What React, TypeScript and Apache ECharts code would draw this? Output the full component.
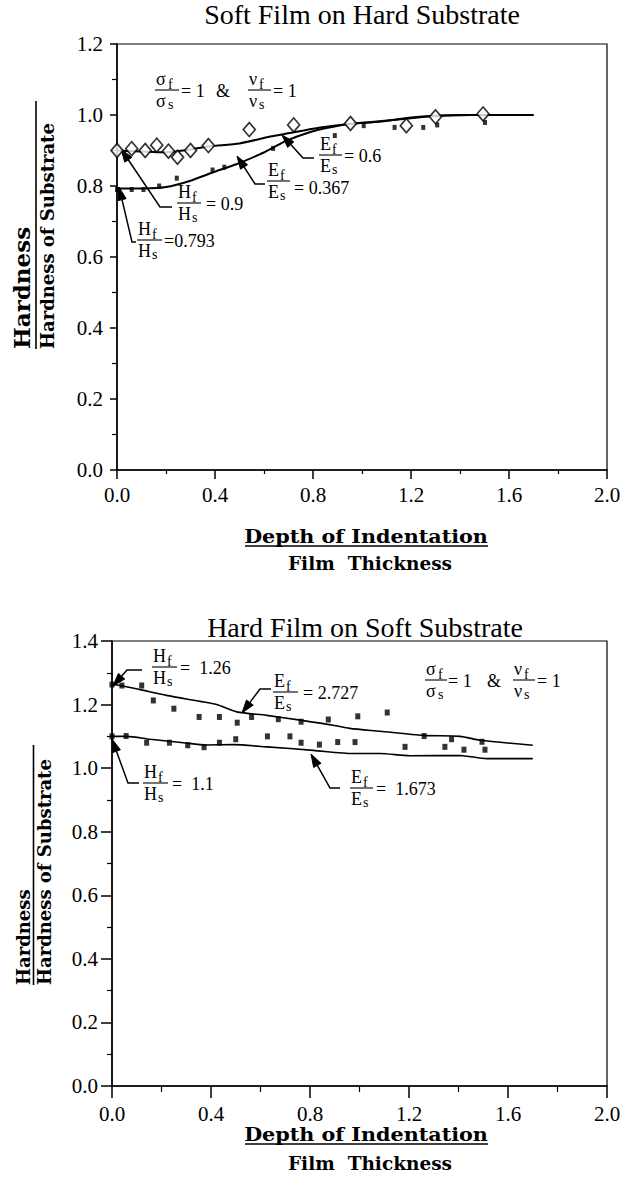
import React, { useEffect, useRef } from "react";
import * as echarts from "echarts";

// ---- Soft film on hard substrate ----
const SOFT_X_TICKS = [0, 0.4, 0.8, 1.2, 1.6, 2.0];
const SOFT_Y_TICKS = [0, 0.2, 0.4, 0.6, 0.8, 1.0, 1.2];
// model curve, Ef/Es = 0.6, Hf/Hs = 0.9
const softCurveE06: number[][] = [
  [0, 0.9], [0.2, 0.895], [0.38, 0.912], [0.5, 0.92], [0.63, 0.94], [0.68, 0.946],
  [0.83, 0.965], [0.95, 0.975], [1.08, 0.982], [1.2, 0.993], [1.3, 0.998], [1.43, 1.0], [1.7, 1.0],
];
// model curve, Ef/Es = 0.367, Hf/Hs = 0.793
const softCurveE0367: number[][] = [
  [0, 0.793], [0.11, 0.793], [0.2, 0.797], [0.3, 0.815], [0.39, 0.838], [0.49, 0.862],
  [0.585, 0.89], [0.64, 0.909], [0.69, 0.927], [0.78, 0.95], [0.86, 0.964], [0.94, 0.974],
  [1.05, 0.981], [1.2, 0.991], [1.3, 0.997], [1.45, 1.0], [1.7, 1.0],
];
// measured points (open diamonds)
const softDiamonds: number[][] = [
  [0, 0.9], [0.06, 0.905], [0.115, 0.9], [0.162, 0.915], [0.21, 0.898], [0.247, 0.881],
  [0.3, 0.9], [0.373, 0.914], [0.54, 0.959], [0.721, 0.972], [0.953, 0.976], [1.181, 0.97],
  [1.3, 0.995], [1.494, 1.003],
];
// measured points (filled squares)
const softSquares: number[][] = [
  [0, 0.79], [0.06, 0.79], [0.108, 0.79], [0.172, 0.8], [0.244, 0.822], [0.39, 0.845],
  [0.438, 0.853], [0.637, 0.906], [0.889, 0.942], [1.007, 0.97], [1.133, 0.965], [1.25, 0.965],
  [1.307, 0.972], [1.502, 0.979],
];

// ---- Hard film on soft substrate ----
const HARD_Y_TICKS = [0, 0.2, 0.4, 0.6, 0.8, 1.0, 1.2, 1.4];
// model curve, Ef/Es = 2.727, Hf/Hs = 1.26
const hardCurveE2727: number[][] = [
  [0, 1.263], [0.032, 1.26], [0.113, 1.247], [0.22, 1.229], [0.356, 1.21], [0.423, 1.2],
  [0.504, 1.177], [0.625, 1.166], [0.76, 1.151], [0.894, 1.135], [0.96, 1.125], [1.083, 1.116],
  [1.258, 1.103], [1.406, 1.1], [1.487, 1.088], [1.7, 1.072],
];
// model curve, Ef/Es = 1.673, Hf/Hs = 1.1
const hardCurveE1673: number[][] = [
  [0, 1.1], [0.06, 1.1], [0.154, 1.091], [0.288, 1.08], [0.383, 1.073], [0.49, 1.074],
  [0.625, 1.067], [0.813, 1.056], [0.975, 1.046], [1.083, 1.046], [1.204, 1.039], [1.406, 1.04],
  [1.514, 1.03], [1.7, 1.03],
];
const hardSquaresUpper: number[][] = [
  [0, 1.263], [0.04, 1.26], [0.12, 1.26], [0.167, 1.213], [0.25, 1.187], [0.352, 1.161],
  [0.434, 1.161], [0.506, 1.143], [0.564, 1.161], [0.672, 1.154], [0.764, 1.146], [0.874, 1.153],
  [0.993, 1.163], [1.112, 1.175], [1.261, 1.101], [1.372, 1.091], [1.495, 1.083],
];
const hardSquaresLower: number[][] = [
  [0, 1.1], [0.057, 1.101], [0.14, 1.08], [0.232, 1.08], [0.306, 1.072], [0.372, 1.066],
  [0.434, 1.08], [0.5, 1.091], [0.628, 1.1], [0.719, 1.1], [0.764, 1.08], [0.838, 1.074],
  [0.912, 1.082], [0.982, 1.082], [1.184, 1.067], [1.345, 1.067], [1.422, 1.058], [1.507, 1.058],
];

const SERIF = "Liberation Serif";
const WIDE_SERIF = "DejaVu Serif";
const INK = "#000";

function txt(
  text: string, x: number, y: number, size: number,
  align = "left", weight = "normal", family = SERIF, scaleX = 1,
): any {
  return {
    type: "text",
    x,
    y,
    scaleX,
    silent: true,
    style: {
      text,
      font: `${weight} ${size}px ${family}`,
      fill: INK,
      align,
      textAlign: align,
      verticalAlign: "middle",
      textVerticalAlign: "middle",
    },
  };
}

function seg(x1: number, y1: number, x2: number, y2: number, w = 1.2): any {
  return { type: "line", silent: true, shape: { x1, y1, x2, y2 }, style: { stroke: INK, lineWidth: w } };
}

// leader with a filled arrowhead: end -> elbow -> tip
function arrow(tip: number[], elbow: number[], end: number[]): any[] {
  const dx = tip[0] - elbow[0];
  const dy = tip[1] - elbow[1];
  const len = Math.hypot(dx, dy);
  const ux = dx / len;
  const uy = dy / len;
  const L = 13;
  const hw = 4.2;
  const bx = tip[0] - ux * L;
  const by = tip[1] - uy * L;
  return [
    {
      type: "polyline",
      silent: true,
      shape: { points: [end, elbow, [bx, by]] },
      style: { stroke: INK, lineWidth: 1.5, fill: null },
    },
    {
      type: "polygon",
      silent: true,
      shape: { points: [tip, [bx - uy * hw, by + ux * hw], [bx + uy * hw, by - ux * hw]] },
      style: { fill: INK, stroke: INK, lineWidth: 1 },
    },
  ];
}

// stacked ratio such as  H_f / H_s = 0.9
function ratio(
  x0: number, w: number, yb: number,
  num: string, numSub: string, den: string, denSub: string,
  glyphW: number, rhs: string, rhsX: number, rhsDy = 1,
): any[] {
  return [
    seg(x0, yb, x0 + w, yb, 1.1),
    txt(num, x0 + 1, yb - 11, 18),
    txt(numSub, x0 + 2 + glyphW, yb - 6, 14),
    txt(den, x0 + 1, yb + 11, 18),
    txt(denSub, x0 + 2 + glyphW, yb + 14, 14),
    txt(rhs, rhsX, yb + rhsDy, 18),
  ];
}

function xAxisFor(gridIndex: number, major: number, minor: number, margin: number): any {
  return {
    type: "value",
    gridIndex,
    min: SOFT_X_TICKS[0],
    max: SOFT_X_TICKS[SOFT_X_TICKS.length - 1],
    interval: SOFT_X_TICKS[1] - SOFT_X_TICKS[0],
    axisLine: { show: true, onZero: false, lineStyle: { color: INK, width: 1.5 } },
    axisTick: { show: true, inside: false, length: major, lineStyle: { color: INK, width: 1.5 } },
    minorTick: { show: true, splitNumber: 2, length: minor, lineStyle: { color: INK, width: 1.2 } },
    splitLine: { show: false },
    axisLabel: {
      margin,
      color: INK,
      fontFamily: SERIF,
      fontSize: 21,
      formatter: (v: number) => v.toFixed(1),
    },
  };
}

function yAxisFor(gridIndex: number, ticks: number[], major: number, minor: number, margin: number): any {
  return {
    type: "value",
    gridIndex,
    min: ticks[0],
    max: ticks[ticks.length - 1],
    interval: ticks[1] - ticks[0],
    axisLine: { show: true, onZero: false, lineStyle: { color: INK, width: 1.5 } },
    axisTick: { show: true, inside: false, length: major, lineStyle: { color: INK, width: 1.5 } },
    minorTick: { show: true, splitNumber: 2, length: minor, lineStyle: { color: INK, width: 1.2 } },
    splitLine: { show: false },
    axisLabel: {
      margin,
      color: INK,
      fontFamily: SERIF,
      fontSize: 21,
      formatter: (v: number) => v.toFixed(1),
    },
  };
}

function curve(data: number[][], idx: number, width: number): any {
  return {
    type: "line",
    xAxisIndex: idx,
    yAxisIndex: idx,
    data,
    smooth: 0.25,
    showSymbol: false,
    symbol: "none",
    lineStyle: { color: INK, width },
    z: 2,
  };
}

function squares(data: number[][], idx: number, size: number[]): any {
  return {
    type: "scatter",
    xAxisIndex: idx,
    yAxisIndex: idx,
    data,
    symbol: "rect",
    symbolSize: size,
    itemStyle: { color: INK },
    z: 3,
  };
}

// vertical text reading bottom-to-top
function vText(text: string, x: number, y: number, size: number): any {
  return {
    type: "text",
    x,
    y,
    rotation: Math.PI / 2,
    silent: true,
    style: {
      text,
      font: `bold ${size}px ${WIDE_SERIF}`,
      fill: INK,
      align: "left",
      textAlign: "left",
      verticalAlign: "middle",
      textVerticalAlign: "middle",
    },
  };
}

function yTitle(cx: number, yStart: number, numSize: number, barX: number, barLen: number, denX: number): any[] {
  return [
    vText("Hardness", cx, yStart, numSize),
    seg(barX, yStart, barX, yStart - barLen, 1.6),
    vText("Hardness of Substrate", denX, yStart, 18),
  ];
}

function xTitle(cx: number, y1: number, y2: number, ulY: number, ulX0: number, ulX1: number): any[] {
  return [
    txt("Depth of Indentation", cx, y1, 18, "center", "bold", WIDE_SERIF, 1.15),
    seg(ulX0, ulY, ulX1, ulY, 1.5),
    txt("Film  Thickness", cx + 4, y2, 18.5, "center", "bold", WIDE_SERIF),
  ];
}

function buildGraphics(): any[] {
  const g: any[] = [];
  // titles
  g.push(txt("Soft Film on Hard Substrate", 362, 14, 28, "center"));
  g.push(txt("Hard Film on Soft Substrate", 365, 627, 28, "center"));

  // axis titles
  g.push(...yTitle(21, 349, 23, 36, 248, 47));
  g.push(...yTitle(23, 985, 18, 33.5, 240, 44));
  g.push(...xTitle(366, 537, 563, 546, 245, 488));
  g.push(...xTitle(366, 1135, 1163, 1144, 245, 488));

  // soft-film annotations
  g.push(...ratio(155, 24, 90, "σ", "f", "σ", "s", 11, "= 1", 181));
  g.push(txt("&", 223, 91, 18, "center"));
  g.push(...ratio(248, 23, 90, "ν", "f", "ν", "s", 9, "= 1", 273));

  g.push(...arrow([121, 149], [160, 207], [172, 207]));
  g.push(...ratio(177, 24, 203, "H", "f", "H", "s", 13, "= 0.9", 206));
  g.push(...arrow([119, 187], [132, 242], [136, 242]));
  g.push(...ratio(137, 25, 240, "H", "f", "H", "s", 13, "=0.793", 164));
  g.push(...arrow([237, 156], [255, 184], [265, 184]));
  g.push(...ratio(267, 23, 181, "E", "f", "E", "s", 11, "= 0.367", 294, 7));
  g.push(...arrow([282, 135], [303, 158], [314, 158]));
  g.push(...ratio(319, 23, 155, "E", "f", "E", "s", 11, "= 0.6", 344));

  // hard-film annotations
  g.push(...ratio(425, 22, 680, "σ", "f", "σ", "s", 11, "= 1", 448));
  g.push(txt("&", 494, 681, 18, "center"));
  g.push(...ratio(513, 22, 680, "ν", "f", "ν", "s", 9, "= 1", 537));

  g.push(...arrow([113, 686], [127, 670], [142, 670]));
  g.push(...ratio(152, 25, 667, "H", "f", "H", "s", 13, "=  1.26", 180));
  g.push(...arrow([112, 739], [128, 783], [139, 783]));
  g.push(...ratio(143, 25, 783, "H", "f", "H", "s", 13, "=  1.1", 172));
  g.push(...arrow([242, 713], [260, 689], [271, 689]));
  g.push(...ratio(273, 25, 692, "E", "f", "E", "s", 11, "= 2.727", 303));
  g.push(...arrow([311, 754], [330, 788], [340, 788]));
  g.push(...ratio(350, 23, 788, "E", "f", "E", "s", 11, "=  1.673", 376));
  return g;
}

export default function App() {
  const ref = useRef<HTMLDivElement>(null);

  useEffect(() => {
    if (!ref.current) return;
    const chart = echarts.init(ref.current, null, { renderer: "svg" });
    const option: any = {
      animation: false,
      backgroundColor: "#fff",
      grid: [
        { left: 117, top: 44, width: 490, height: 426, show: true, borderColor: INK, borderWidth: 1.2, containLabel: false },
        { left: 112, top: 641, width: 495, height: 445, show: true, borderColor: INK, borderWidth: 1.2, containLabel: false },
      ],
      xAxis: [xAxisFor(0, 9, 4, 14), xAxisFor(1, 12, 6, 17)],
      yAxis: [yAxisFor(0, SOFT_Y_TICKS, 7, 5, 14), yAxisFor(1, HARD_Y_TICKS, 11, 5, 14)],
      series: [
        curve(softCurveE06, 0, 2),
        curve(softCurveE0367, 0, 2),
        squares(softSquares, 0, [4, 5]),
        {
          type: "scatter",
          xAxisIndex: 0,
          yAxisIndex: 0,
          data: softDiamonds,
          symbol: "diamond",
          symbolSize: [12, 14],
          itemStyle: { color: "#fff", borderColor: INK, borderWidth: 1.7 },
          z: 4,
        },
        curve(hardCurveE2727, 1, 1.6),
        curve(hardCurveE1673, 1, 1.6),
        squares(hardSquaresUpper, 1, [5, 6]),
        squares(hardSquaresLower, 1, [5, 6]),
      ],
      graphic: { elements: buildGraphics() },
    };
    chart.setOption(option);
    return () => chart.dispose();
  }, []);

  return (
    <div
      ref={ref}
      style={{ position: "absolute", left: 0, top: 0, width: 628, height: 1191, background: "#fff" }}
    />
  );
}
